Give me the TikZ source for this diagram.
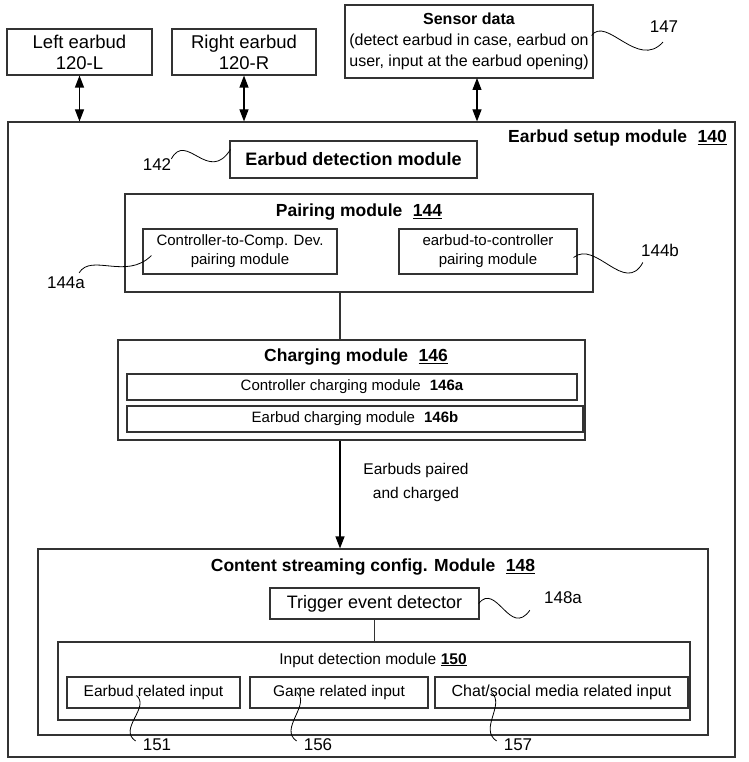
\documentclass[tikz,border=0pt]{standalone}
\usepackage{fontspec}
\setmainfont{Liberation Sans}
\usetikzlibrary{arrows.meta,calc}
\tikzstyle{box}=[rectangle,draw=black!80,line width=1.1pt,inner sep=0pt,align=center,
  font=\fontsize{16}{21}\selectfont]
\tikzstyle{big}=[box,font=\fontsize{18.5}{21}\selectfont]
\tikzstyle{sub}=[box,font=\fontsize{15}{19}\selectfont]
\tikzstyle{title}=[inner sep=0pt,font=\bfseries\fontsize{17.5}{21}\selectfont]
\tikzstyle{lbl}=[inner sep=0pt,font=\fontsize{17}{20}\selectfont]
\tikzstyle{txt}=[inner sep=0pt,align=center,font=\fontsize{15.5}{24}\selectfont]
\tikzstyle{link}=[line width=1.1pt,draw=black!80]
\tikzstyle{dbl}=[line width=1.1pt,{Triangle[width=9pt,length=12pt]}-{Triangle[width=9pt,length=12pt]}]
\tikzstyle{arr}=[line width=1.1pt,-{Triangle[width=9pt,length=12pt]}]
\tikzstyle{squig}=[line width=0.8pt]
\tikzstyle{none}=[inner sep=0pt]

\begin{document}
\begin{tikzpicture}[x=1pt,y=-1pt]
            \useasboundingbox (0,0) rectangle (748,762);
            \node [style=big, minimum width=145pt, minimum height=46pt] (0) at (79.5, 52) {Left earbud\\120-L};
            \node [style=big, minimum width=144pt, minimum height=46pt] (1) at (244, 52) {Right earbud\\120-R};
            \node [style=box, minimum width=248pt, minimum height=73pt] (2) at (469, 41.5) {\textbf{Sensor data}\\(detect earbud in case, earbud on\\user, input at the earbud opening)};
            \node [style=lbl] (3) at (664, 27) {147};
            \node [style=box, minimum width=727pt, minimum height=635pt] (4) at (371.5, 439.5) {};
            \node [style=title, anchor=east] (5) at (727, 138) {Earbud setup module\hspace{0.6em}\underline{140}};
            \node [style=box, minimum width=247pt, minimum height=37pt, font=\bfseries\fontsize{18}{21}\selectfont] (6) at (353.5, 159.5) {Earbud detection module};
            \node [style=lbl] (7) at (157, 165) {142};
            \node [style=box, minimum width=468pt, minimum height=98pt] (8) at (359, 243) {};
            \node [style=title] (9) at (359, 212) {Pairing module\hspace{0.6em}\underline{144}};
            \node [style=sub, minimum width=194pt, minimum height=45pt] (10) at (240, 251.5) {Controller-to-Comp. Dev.\\pairing module};
            \node [style=sub, minimum width=178pt, minimum height=45pt] (11) at (488, 251.5) {earbud-to-controller\\pairing module};
            \node [style=lbl] (12) at (66, 283) {144a};
            \node [style=lbl] (13) at (660, 250) {144b};
            \node [style=box, minimum width=467pt, minimum height=100pt] (14) at (351.5, 390) {};
            \node [style=title] (15) at (356, 357) {Charging module\hspace{0.6em}\underline{146}};
            \node [style=sub, minimum width=450pt, minimum height=26pt] (16) at (352, 387) {Controller charging module\hspace{0.6em}\textbf{146a}};
            \node [style=sub, minimum width=456pt, minimum height=26pt] (17) at (355, 419) {Earbud charging module\hspace{0.6em}\textbf{146b}};
            \node [style=txt] (18) at (416, 482) {Earbuds paired\\and charged};
            \node [style=box, minimum width=670pt, minimum height=186pt] (19) at (373, 642) {};
            \node [style=title] (20) at (373, 567) {Content streaming config. Module\hspace{0.6em}\underline{148}};
            \node [style=box, minimum width=209pt, minimum height=31pt, font=\fontsize{18}{21}\selectfont] (21) at (374.5, 603.5) {Trigger event detector};
            \node [style=lbl] (22) at (563, 598) {148a};
            \node [style=box, minimum width=632pt, minimum height=78pt] (23) at (374, 681) {};
            \node [style=txt] (24) at (373, 660) {Input detection module\hspace{0.3em}\textbf{\underline{150}}};
            \node [style=box, minimum width=173pt, minimum height=31pt, font=\fontsize{15.5}{21}\selectfont] (25) at (153.5, 692.5) {Earbud related input};
            \node [style=box, minimum width=178pt, minimum height=31pt, font=\fontsize{15.5}{21}\selectfont] (26) at (339, 692.5) {Game related input};
            \node [style=box, minimum width=253pt, minimum height=31pt] (27) at (561.5, 692.5) {Chat/social media related input};
            \node [style=lbl] (28) at (157, 745) {151};
            \node [style=lbl] (29) at (318, 745) {156};
            \node [style=lbl] (30) at (518, 745) {157};
            \coordinate (31) at (340, 300);
            \coordinate (32) at (477, 78);
            \draw [style=dbl] (0.south) to (0.south |- 4.north);
            \draw [style=dbl] (1.south) to (1.south |- 4.north);
            \draw [style=dbl] (32) to (32 |- 4.north);
            \draw [style=link] (8.south -| 31) to (14.north -| 31);
            \draw [style=arr] (14.south -| 31) to (19.north -| 31);
            \draw [style=link] (21.south) to (23.north -| 21.south);
            \draw [style=squig] ($(2.east)+(-2,-6)$) .. controls +(15,-20) and +(-25,28) .. ($(3.south)+(-1,9)$);
            \draw [style=squig] (7.north east) .. controls +(15,-28) and +(-22,35) .. ($(6.west)+(1,-10)$);
            \draw [style=squig] ($(12.north east)+(-6,-4)$) .. controls +(12,-20) and +(-25,25) .. ($(10.west)+(9,4)$);
            \draw [style=squig] ($(11.east)+(-4,6)$) .. controls +(22,-18) and +(-18,33) .. ($(13.south west)+(2,6)$);
            \draw [style=squig] ($(21.east)+(-1,0)$) .. controls +(18,-22) and +(-20,28) .. ($(22.south west)+(-14,6)$);
            \draw [style=squig] ($(25.center)+(-17,3)$) .. controls +(14,12) and +(-18,-12) .. ($(28.west)+(-7,-4)$);
            \draw [style=squig] ($(26.center)+(-42,0)$) .. controls +(14,12) and +(-18,-12) .. ($(29.west)+(-7,-4)$);
            \draw [style=squig] ($(27.center)+(-70,0)$) .. controls +(14,12) and +(-18,-12) .. ($(30.west)+(-7,-4)$);
\end{tikzpicture}
\end{document}
